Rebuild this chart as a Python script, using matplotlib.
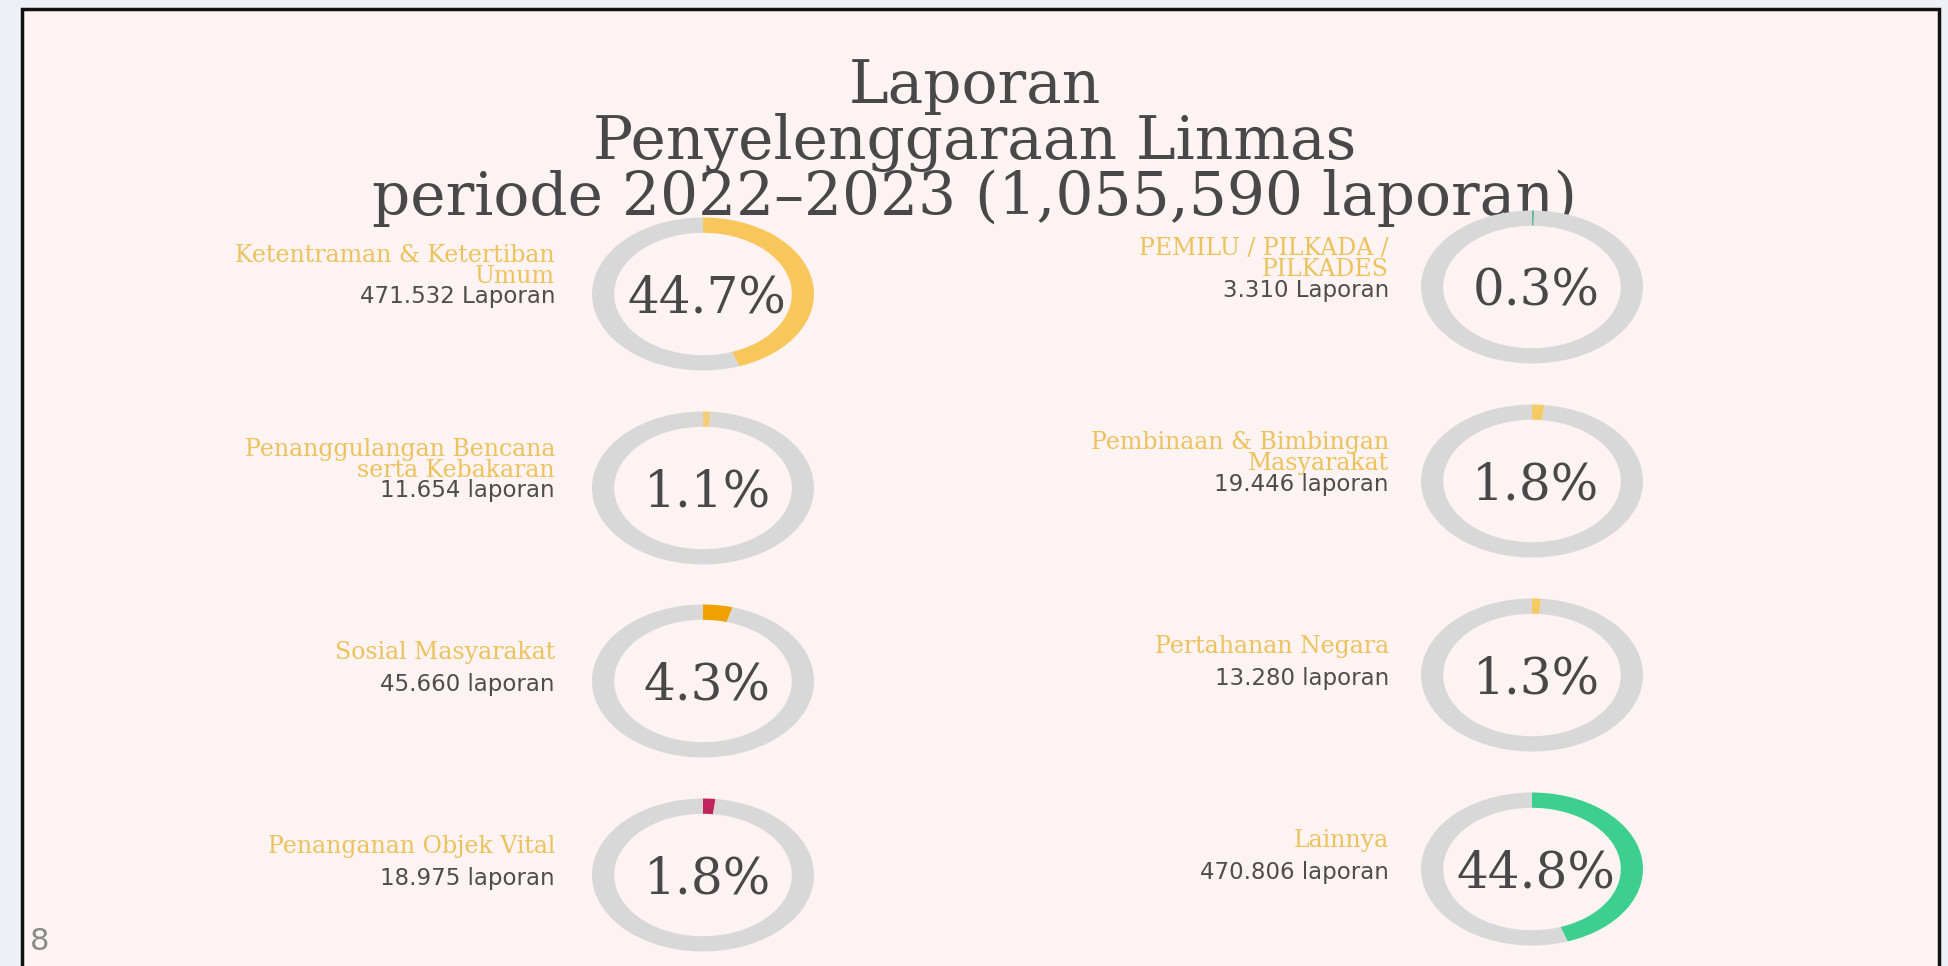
import matplotlib
matplotlib.use('Agg')
import matplotlib.pyplot as plt
from matplotlib.patches import Rectangle

# chart values
title_lines = ['Laporan', 'Penyelenggaraan Linmas', 'periode 2022\u20132023 (1,055,590 laporan)']

categories = [
    'Ketentraman & Ketertiban\nUmum',
    'Penanggulangan Bencana\nserta Kebakaran',
    'Sosial Masyarakat',
    'Penanganan Objek Vital',
    'PEMILU / PILKADA /\nPILKADES',
    'Pembinaan & Bimbingan\nMasyarakat',
    'Pertahanan Negara',
    'Lainnya',
]
report_labels = [
    '471.532 Laporan', '11.654 laporan', '45.660 laporan', '18.975 laporan',
    '3.310 Laporan', '19.446 laporan', '13.280 laporan', '470.806 laporan',
]
percentages = [44.7, 1.1, 4.3, 1.8, 0.3, 1.8, 1.3, 44.8]
arc_colors = ['#F8C75C', '#F5CD78', '#F0A000', '#C0245A',
              '#5DBB9C', '#F5CB66', '#F6CA62', '#3DCF8E']

W, H = 1948, 966
fig = plt.figure(figsize=(W / 100, H / 100), dpi=100)
fig.patch.set_facecolor('#EDF1F5')

base = fig.add_axes([0, 0, 1, 1])
base.set_xlim(0, W)
base.set_ylim(H, 0)
base.axis('off')

# slide panel with black frame
base.add_patch(Rectangle((22, 9), 1917, 980, facecolor='#FDF3F2',
                         edgecolor='#111111', linewidth=2.5, zorder=0))

# title
title_font = 'DejaVu Serif'
for line, yb in zip(title_lines, [103, 159, 215]):
    base.text(975, yb, line, ha='center', va='baseline', fontsize=43,
              family=title_font, color='#484848')

# layout of the 2x4 grid of rings
col_x = [703, 1532]
row_y = [[294, 488, 681, 875], [287, 481, 675, 869]]
label_x = [555, 1389]
ring_w, ring_h = 222, 153
gray = '#D8D8D8'

for i, (cat, rep, pct, col) in enumerate(zip(categories, report_labels, percentages, arc_colors)):
    c = i // 4
    r = i % 4
    cx = col_x[c]
    cy = row_y[c][r]

    ax = fig.add_axes([(cx - ring_w / 2) / W, 1 - (cy + ring_h / 2) / H,
                       ring_w / W, ring_h / H])
    ax.pie([pct, 100 - pct], colors=[col, gray], startangle=90,
           counterclock=False, radius=1,
           wedgeprops=dict(width=0.2, edgecolor='none'))
    ax.set_aspect('auto')
    ax.set_xlim(-1, 1)
    ax.set_ylim(-1, 1)
    ax.axis('off')

    base.text(cx + 4, cy - 1, f'{pct}%', ha='center', va='center_baseline',
              fontsize=36, family=title_font, color='#484848')

    base.text(label_x[c], cy - 28, cat, ha='right', va='center', fontsize=17,
              family=title_font, color='#EBC25C', linespacing=0.85)
    base.text(label_x[c], cy + 3, rep, ha='right', va='center', fontsize=16.5,
              family='DejaVu Sans', color='#4D4D4D')

# page number
base.text(30, 950, '8', ha='left', va='baseline', fontsize=22,
          family='DejaVu Sans', color='#8A8A8A')

fig.savefig('out.png', dpi=100, facecolor=fig.get_facecolor())
